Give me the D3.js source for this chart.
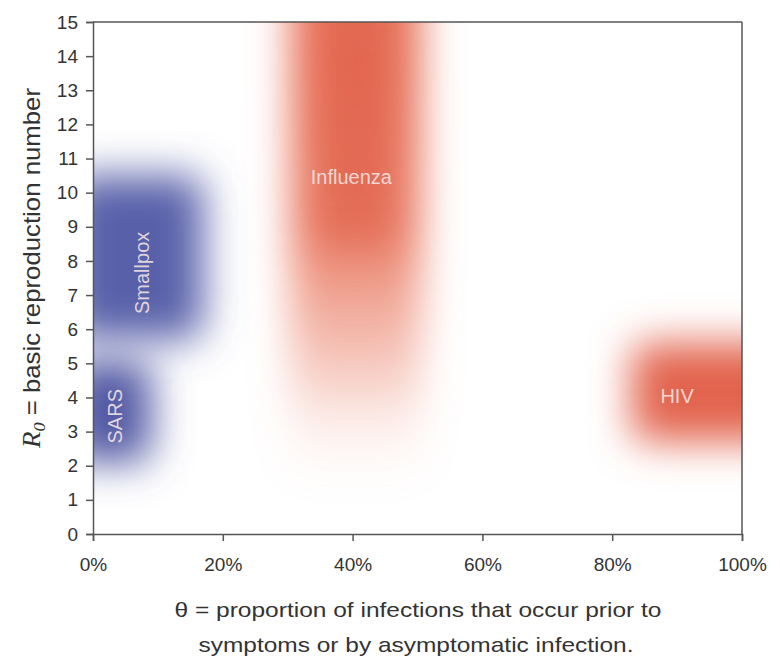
<!DOCTYPE html>
<html>
<head>
<meta charset="utf-8">
<script src="https://cdn.jsdelivr.net/npm/d3@7"></script>
<style>
  body { margin: 0; background: #fff; }
  svg { font-family: "Liberation Sans", Arial, Helvetica, sans-serif; }
</style>
</head>
<body>
<div id="chart"></div>
<script>
// diseases and the region each one covers (theta range, R0 range)
let diseases = ["SARS", "Smallpox", "Influenza", "HIV"]
let thetaLo = [-0.04, -0.04, 0.305, 0.83]
let thetaHi = [0.09, 0.17, 0.505, 1.08]
let r0Lo = [2.1, 5.7, 1.6, 2.7]
let r0Hi = [5.1, 10.5, 18, 5.6]
let colors = ["#5158a3", "#5961a9", "#e8765d", "#e2634d"]

// label placement for each disease
let labelTheta = [0.034, 0.076, 0.398, 0.90]
let labelR0 = [3.45, 7.65, 10.45, 4.05]
let labelRotate = [-90, -90, 0, 0]

// influenza has a darker core near the top
let fluCoreTheta = [0.35, 0.46]
let fluCoreR0 = [8.5, 15.5]

let yTicks = d3.range(0, 16)
let xTicks = [0, 0.2, 0.4, 0.6, 0.8, 1.0]

let width = 780
let height = 671
let margin = {top: 22, right: 38, bottom: 137, left: 93}
let w = width - margin.left - margin.right
let h = height - margin.top - margin.bottom

let x = d3.scaleLinear().domain([0, 1]).range([0, w])
let y = d3.scaleLinear().domain([0, 15]).range([h, 0])

let svg = d3.select('#chart')
    .append('svg')
    .attr('width', width)
    .attr('height', height)

let defs = svg.append('defs')

defs.append('clipPath').attr('id', 'plotclip')
    .append('rect').attr('width', w).attr('height', h)

defs.append('filter').attr('id', 'blur')
    .attr('filterUnits', 'userSpaceOnUse')
    .attr('x', -200).attr('y', -200).attr('width', w + 400).attr('height', h + 400)
    .append('feGaussianBlur').attr('stdDeviation', 20)

defs.append('filter').attr('id', 'blurBig')
    .attr('filterUnits', 'userSpaceOnUse')
    .attr('x', -200).attr('y', -200).attr('width', w + 400).attr('height', h + 400)
    .append('feGaussianBlur').attr('stdDeviation', 22)

// vertical fade for influenza: solid at the top, gone near R0 = 2
let fade = defs.append('linearGradient').attr('id', 'fluFade')
    .attr('gradientUnits', 'userSpaceOnUse')
    .attr('x1', 0).attr('x2', 0)
    .attr('y1', y(15)).attr('y2', y(1.6))
fade.append('stop').attr('offset', 0).attr('stop-color', colors[2]).attr('stop-opacity', 1)
fade.append('stop').attr('offset', 0.45).attr('stop-color', colors[2]).attr('stop-opacity', 0.92)
fade.append('stop').attr('offset', 0.72).attr('stop-color', colors[2]).attr('stop-opacity', 0.45)
fade.append('stop').attr('offset', 0.88).attr('stop-color', colors[2]).attr('stop-opacity', 0.12)
fade.append('stop').attr('offset', 1).attr('stop-color', colors[2]).attr('stop-opacity', 0)

let g = svg.append('g')
    .attr('transform', "translate(" + margin.left + "," + margin.top + ")")

let blobs = g.append('g').attr('clip-path', 'url(#plotclip)')

blobs.selectAll('rect.blob')
    .data(diseases)
    .enter()
    .append('rect')
    .attr('class', 'blob')
    .attr('x', (d, i) => x(thetaLo[i]))
    .attr('y', (d, i) => y(r0Hi[i]))
    .attr('width', (d, i) => x(thetaHi[i]) - x(thetaLo[i]))
    .attr('height', (d, i) => y(r0Lo[i]) - y(r0Hi[i]))
    .attr('rx', 16)
    .attr('fill', (d, i) => d == "Influenza" ? 'url(#fluFade)' : colors[i])
    .attr('filter', 'url(#blur)')

blobs.append('rect')
    .attr('x', x(fluCoreTheta[0]))
    .attr('y', y(fluCoreR0[1]))
    .attr('width', x(fluCoreTheta[1]) - x(fluCoreTheta[0]))
    .attr('height', y(fluCoreR0[0]) - y(fluCoreR0[1]))
    .attr('fill', "#dc5540")
    .attr('opacity', 0.5)
    .attr('filter', 'url(#blurBig)')

g.selectAll('text.label')
    .data(diseases)
    .enter()
    .append('text')
    .attr('class', 'label')
    .attr('transform', (d, i) => "translate(" + x(labelTheta[i]) + "," + y(labelR0[i]) + ") rotate(" + labelRotate[i] + ")")
    .attr('text-anchor', 'middle')
    .attr('dominant-baseline', 'central')
    .attr('fill', '#f4e6e4')
    .attr('fill-opacity', 0.88)
    .style('font-size', '20px')
    .text(d => d)

// frame on top and right
g.append('line').attr('x1', 0).attr('x2', w).attr('y1', 0).attr('y2', 0)
    .attr('stroke', '#555').attr('stroke-width', 1.5)
g.append('line').attr('x1', w).attr('x2', w).attr('y1', 0).attr('y2', h)
    .attr('stroke', '#555').attr('stroke-width', 1.5)

let yAxis = d3.axisLeft(y).tickValues(yTicks).tickSize(7).tickPadding(8)
let xAxis = d3.axisBottom(x).tickValues(xTicks).tickFormat(d3.format('.0%')).tickSize(7).tickPadding(17)

let ya = g.append('g').call(yAxis)
let xa = g.append('g').attr('transform', "translate(0," + h + ")").call(xAxis)

;[ya, xa].forEach(a => {
    a.select('.domain').attr('stroke', '#555').attr('stroke-width', 1.5)
    a.selectAll('.tick line').attr('stroke', '#555').attr('stroke-width', 1.5)
    a.selectAll('.tick text')
        .attr('fill', '#333')
        .style('font-size', '19px')
        .style('font-family', '"Liberation Sans", Arial, sans-serif')
})

// y axis title
let yt = svg.append('text')
    .attr('transform', "translate(40,268) rotate(-90)")
    .attr('text-anchor', 'middle')
    .attr('fill', '#333')
    .attr('textLength', 360)
    .attr('lengthAdjust', 'spacingAndGlyphs')
    .style('font-size', '24px')
yt.append('tspan').attr('font-style', 'italic').attr('font-family', '"Liberation Serif", "Times New Roman", serif').style('font-size', '25px').text('R')
yt.append('tspan').attr('font-style', 'italic').attr('font-family', '"Liberation Serif", "Times New Roman", serif').attr('dy', 5).style('font-size', '17px').text('0')
yt.append('tspan').attr('dy', -5).text(' = basic reproduction number')

// x axis title, two lines
let xt = svg.append('g')
    .attr('fill', '#333')
    .style('font-size', '21px')
xt.append('text').attr('x', 418).attr('y', 617).attr('text-anchor', 'middle')
    .attr('textLength', 487).attr('lengthAdjust', 'spacingAndGlyphs')
    .text('\u03b8 = proportion of infections that occur prior to')
xt.append('text').attr('x', 416).attr('y', 652).attr('text-anchor', 'middle')
    .attr('textLength', 435).attr('lengthAdjust', 'spacingAndGlyphs')
    .text('symptoms or by asymptomatic infection.')
</script>
</body>
</html>
